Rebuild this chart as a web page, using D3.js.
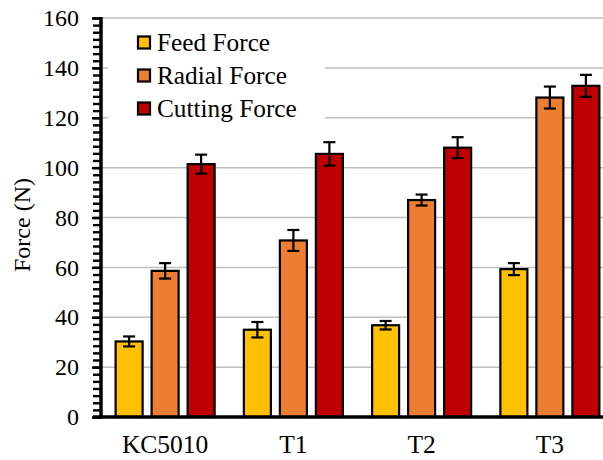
<!DOCTYPE html>
<html>
<head>
<meta charset="utf-8">
<script src="https://cdn.jsdelivr.net/npm/d3@7"></script>
<style>
  html, body { margin: 0; padding: 0; background: #fff; }
  svg { display: block; }
  svg text { font-family: "Liberation Serif", "Times New Roman", "DejaVu Serif", serif !important; fill: #000; }
</style>
</head>
<body>
<svg id="chart" width="603" height="460"></svg>
<script>
// Tool grades on the horizontal axis
const categories = ["KC5010", "T1", "T2", "T3"];

// Series names, fill colours and mean forces (N) with their error half-widths
const seriesNames = ["Feed Force", "Radial Force", "Cutting Force"];
const seriesColors = ["#FFC000", "#ED7D31", "#C00000"];
const feedForce = [30.3, 35.0, 36.8, 59.3];
const feedError = [2.0, 3.1, 1.7, 2.4];
const radialForce = [58.6, 70.8, 87.0, 128.1];
const radialError = [3.1, 4.2, 2.2, 4.4];
const cuttingForce = [101.4, 105.5, 108.0, 132.8];
const cuttingError = [3.8, 4.7, 4.2, 4.4];

// Y axis ticks
const majorTicks = [0, 20, 40, 60, 80, 100, 120, 140, 160];
const minorStep = 20 / 7;

const yTitle = "Force (N)";

const seriesValues = [feedForce, radialForce, cuttingForce];
const seriesErrors = [feedError, radialError, cuttingError];

const svg = d3.select("#chart");
const plotLeft = 101, plotRight = 614, plotTop = 18, plotBottom = 417;

const x = d3.scaleBand().domain(categories).range([plotLeft, plotRight]).padding(0);
const xInner = d3.scaleBand().domain(seriesNames).range([0, x.bandwidth()])
  .paddingInner(7 / 36).paddingOuter(0.378);
const y = d3.scaleLinear().domain([0, 160]).range([plotBottom, plotTop]);

// Horizontal gridlines
svg.append("g").selectAll("line")
  .data(majorTicks.filter(d => d > 0))
  .join("line")
  .attr("x1", plotLeft).attr("x2", plotRight)
  .attr("y1", d => y(d)).attr("y2", d => y(d))
  .attr("stroke", "#bfbfbf").attr("stroke-width", 1.5);

// Legend background hides the gridlines behind it
svg.append("rect")
  .attr("x", 108).attr("y", 24).attr("width", 217).attr("height", 106)
  .attr("fill", "#fff");

// Bars and error bars
const rows = [];
categories.forEach((c, i) => {
  seriesNames.forEach((s, k) => {
    rows.push({ cat: c, series: s, k, value: seriesValues[k][i], err: seriesErrors[k][i] });
  });
});

svg.append("g").selectAll("rect")
  .data(rows)
  .join("rect")
  .attr("x", d => x(d.cat) + xInner(d.series) + 1)
  .attr("width", xInner.bandwidth() - 2)
  .attr("y", d => y(d.value))
  .attr("height", d => y(0) - y(d.value))
  .attr("fill", d => seriesColors[d.k])
  .attr("stroke", "#000").attr("stroke-width", 2.2);

const capHalf = 6;
const eb = svg.append("g").attr("stroke", "#000").attr("stroke-width", 2.2);
rows.forEach(d => {
  const cx = x(d.cat) + xInner(d.series) + xInner.bandwidth() / 2;
  eb.append("line").attr("x1", cx).attr("x2", cx)
    .attr("y1", y(d.value + d.err)).attr("y2", y(d.value - d.err));
  eb.append("line").attr("x1", cx - capHalf).attr("x2", cx + capHalf)
    .attr("y1", y(d.value + d.err)).attr("y2", y(d.value + d.err));
  eb.append("line").attr("x1", cx - capHalf).attr("x2", cx + capHalf)
    .attr("y1", y(d.value - d.err)).attr("y2", y(d.value - d.err));
});

// Y axis: minor ticks, then major ticks with labels
const minorTicks = d3.range(0, 160 + 1e-6, minorStep);
const yMinor = svg.append("g").attr("transform", `translate(${plotLeft},0)`)
  .call(d3.axisLeft(y).tickValues(minorTicks).tickSize(8).tickSizeOuter(0).tickFormat(""));
yMinor.select(".domain").remove();
yMinor.selectAll(".tick line").attr("stroke", "#000").attr("stroke-width", 2.4);

const yMajor = svg.append("g").attr("transform", `translate(${plotLeft},0)`)
  .call(d3.axisLeft(y).tickValues(majorTicks).tickSize(9).tickSizeOuter(0).tickPadding(13));
yMajor.select(".domain").remove();
yMajor.selectAll(".tick line").attr("stroke", "#000").attr("stroke-width", 2.4);
yMajor.selectAll(".tick text").attr("font-size", 24);

// Axis lines
svg.append("line").attr("x1", plotLeft).attr("x2", plotLeft)
  .attr("y1", plotTop - 1).attr("y2", plotBottom + 1.5)
  .attr("stroke", "#000").attr("stroke-width", 3.5);
svg.append("line").attr("x1", plotLeft - 8).attr("x2", plotRight)
  .attr("y1", plotBottom).attr("y2", plotBottom)
  .attr("stroke", "#000").attr("stroke-width", 3.5);

// Category labels
const xAxis = svg.append("g").attr("transform", `translate(0,${plotBottom})`)
  .call(d3.axisBottom(x).tickSize(0).tickPadding(0));
xAxis.select(".domain").remove();
xAxis.selectAll(".tick text")
  .attr("y", 36).attr("dy", null)
  .attr("font-size", 25.5);

// Y axis title
svg.append("text")
  .attr("transform", "translate(30,225) rotate(-90)")
  .attr("text-anchor", "middle")
  .attr("font-size", 24)
  .text(yTitle);

// Legend
const legend = svg.append("g");
seriesNames.forEach((s, k) => {
  const cy = 43 + k * 33;
  legend.append("rect")
    .attr("x", 138).attr("y", cy - 6.5).attr("width", 12).attr("height", 12)
    .attr("fill", seriesColors[k]).attr("stroke", "#000").attr("stroke-width", 2.2);
  legend.append("text")
    .attr("x", 157).attr("y", cy + 7.5)
    .attr("font-size", 25.3)
    .text(s);
});
</script>
</body>
</html>
